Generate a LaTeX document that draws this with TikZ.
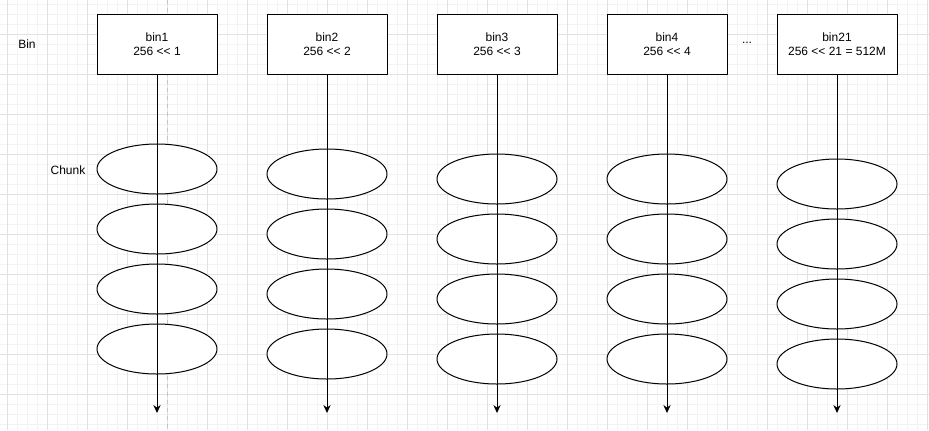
\documentclass[tikz,border=0pt]{standalone}
\usepackage{fontspec}
\setmainfont{Liberation Sans}[Ligatures=TeXOff]
\usetikzlibrary{arrows.meta,shapes.geometric}
\definecolor{gridminor}{HTML}{F3F3F3}
\definecolor{gridmajor}{HTML}{E2E2E2}
\definecolor{pageline}{HTML}{C4C4C4}
\tikzset{
	binbox/.style={draw,fill=white,line width=0.75pt,minimum width=90pt,minimum height=45pt,inner sep=0pt,align=center,font=\fontsize{9}{10.8}\selectfont},
	chunk/.style={draw,fill=white,ellipse,line width=0.75pt,minimum width=90pt,minimum height=37.5pt,inner sep=0pt},
	flow/.style={line width=0.75pt,-{Stealth[length=6pt,width=5.5pt]}},
	lbl/.style={font=\fontsize{9}{10.8}\selectfont,inner sep=0pt}
}
\begin{document}
\begin{tikzpicture}[x=0.75pt,y=-0.75pt,line join=round]
		\useasboundingbox (0,0) rectangle (929,430);
		%==Lưới nền
		\foreach \x in {7,17,...,927}\draw[gridminor,line width=0.5pt] (\x,0)--(\x,430);
		\foreach \y in {4,14,...,424}\draw[gridminor,line width=0.5pt] (0,\y)--(929,\y);
		\foreach \x in {7,47,...,927}\draw[gridmajor,line width=0.6pt] (\x,0)--(\x,430);
		\foreach \y in {34,74,...,394}\draw[gridmajor,line width=0.6pt] (0,\y)--(929,\y);
		\draw[pageline,dashed,line width=0.6pt] (167,0)--(167,430);
		%==Nhãn
		\node[lbl] (binlabel) at (27,44) {Bin};
		\node[lbl] (chunklabel) at (68,170) {Chunk};
		\node[lbl] (dots) at (747,43) {...};
		%==Các cột
		\foreach \n/\x/\y/\t in {1/157/169/{bin1\\256 << 1},2/327/174/{bin2\\256 << 2},3/497/179/{bin3\\256 << 3},4/667/179/{bin4\\256 << 4},5/837/184/{bin21\\256 << 21 = 512M}}{
			\node[binbox] (bin\n) at (\x,44) {\t};
			\foreach \k in {0,...,3}\node[chunk] (chunk\n-\k) at (\x,{\y+60*\k}) {};
			\coordinate (end\n) at (\x,413);
			\draw[flow] (bin\n.south)--(end\n);
		}
		\end{tikzpicture}
\end{document}
